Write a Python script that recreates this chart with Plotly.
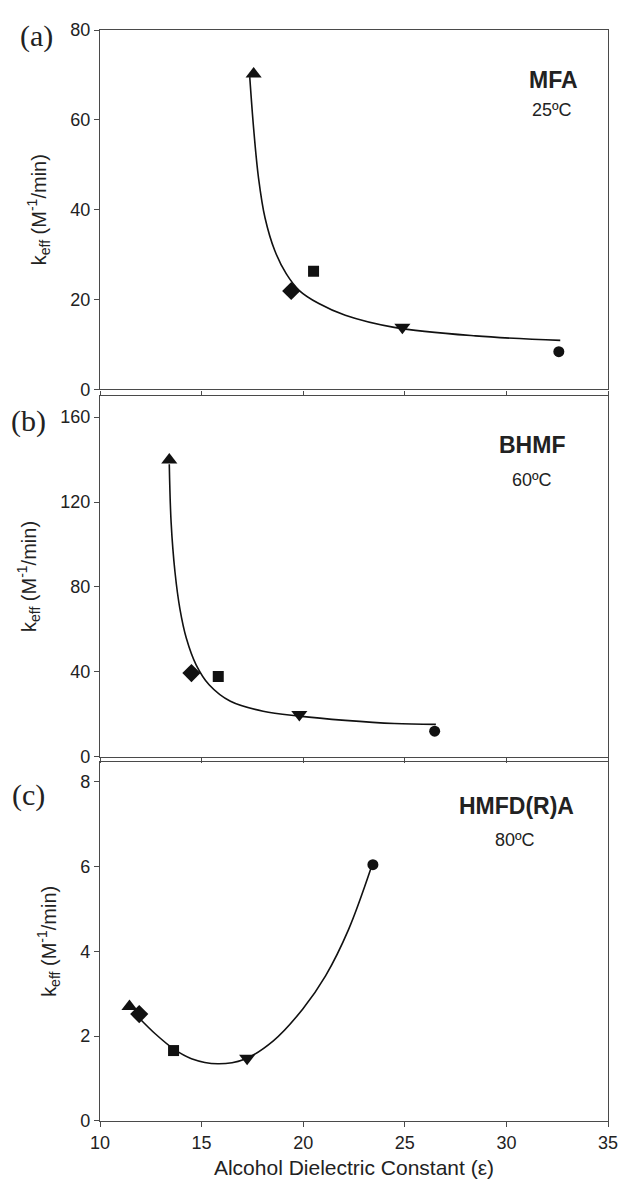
import plotly.graph_objects as go

# ---- data ----
symbols = ["triangle-up", "diamond", "square", "triangle-down", "circle"]

eps_a = [17.56, 19.41, 20.51, 24.88, 32.58]
k_a = [70.2, 21.9, 26.3, 13.8, 8.4]
fit_x_a = [17.37, 17.56, 17.80, 18.12, 18.60, 19.17, 19.81, 20.77, 22.07, 24.48, 28.48, 32.65]
fit_y_a = [69.5, 58.1, 47.1, 38.2, 30.9, 25.7, 22.0, 19.1, 16.5, 13.8, 11.9, 10.9]

eps_b = [13.41, 14.50, 15.82, 19.81, 26.47]
k_b = [139.8, 39.4, 37.8, 19.9, 12.0]
fit_x_b = [13.41, 13.50, 13.69, 13.93, 14.25, 14.73, 15.37, 16.42, 18.03, 19.81, 22.07, 24.48, 26.53]
fit_y_b = [137.8, 110.4, 87.0, 69.8, 55.8, 43.3, 33.9, 26.1, 21.4, 19.1, 17.1, 15.6, 15.2]

eps_c = [11.45, 11.93, 13.62, 17.24, 23.43]
k_c = [2.70, 2.52, 1.66, 1.48, 6.04]
fit_x_c = [11.90, 12.73, 13.62, 14.50, 15.79, 17.08, 18.53, 19.98, 21.10, 22.23, 23.33]
fit_y_c = [2.44, 2.05, 1.70, 1.47, 1.35, 1.45, 1.89, 2.64, 3.42, 4.51, 5.95]

x_ticks = [10, 15, 20, 25, 30, 35]
y_ticks_a = [0, 20, 40, 60, 80]
y_ticks_b = [0, 40, 80, 120, 160]
y_ticks_c = [0, 2, 4, 6, 8]

panel_labels = ["(a)", "(b)", "(c)"]
compounds = ["MFA", "BHMF", "HMFD(R)A"]
temps = ["25ºC", "60ºC", "80ºC"]

# ---- figure ----
OFF = 8                      # default page (body) margin around the figure
W, H = 630 - OFF, 1187 - OFF
ML, MR, MT, MB = 100 - OFF, 12, 24 - OFF, 64
PH = H - MT - MB
INK = "#111111"
FRAME = "#4a4a4a"
TXT = "#222222"
FONT = "Liberation Sans, Arial, sans-serif"

def dom(top_px, bot_px):
    # page pixel rows -> domain fractions
    return [(H - MB - (bot_px - OFF)) / PH, (H - MB - (top_px - OFF)) / PH]

def px(xp): return (xp - OFF - ML) / (W - ML - MR)
def py(yp): return (H - MB - (yp - OFF)) / PH

fig = go.Figure()

panels = [
    (eps_a, k_a, fit_x_a, fit_y_a, "x", "y"),
    (eps_b, k_b, fit_x_b, fit_y_b, "x2", "y2"),
    (eps_c, k_c, fit_x_c, fit_y_c, "x3", "y3"),
]
for ex, ky, fx, fy, xa, ya in panels:
    fig.add_trace(go.Scatter(x=fx, y=fy, mode="lines",
                             line=dict(color=INK, width=1.6, shape="spline", smoothing=1.0),
                             xaxis=xa, yaxis=ya, showlegend=False, hoverinfo="skip"))
    fig.add_trace(go.Scatter(x=ex, y=ky, mode="markers",
                             marker=dict(symbol=symbols, color=INK, opacity=1,
                                         size=[14, 14, 11, 14, 11], line=dict(width=0)),
                             xaxis=xa, yaxis=ya, showlegend=False))

xcommon = dict(range=[10, 35], tickvals=x_ticks, ticks="outside", ticklen=5, tickwidth=1.2, tickcolor=FRAME,
               showline=True, linecolor=FRAME, linewidth=1.3, mirror=True, showgrid=False, zeroline=False,
               tickfont=dict(family=FONT, size=18, color=TXT))
ycommon = dict(ticks="outside", ticklen=5, tickwidth=1.2, tickcolor=FRAME,
               showline=True, linecolor=FRAME, linewidth=1.3, mirror=True, showgrid=False, zeroline=False,
               tickfont=dict(family=FONT, size=18, color=TXT),
               title=dict(text="k<sub>eff</sub> (M<sup>-1</sup>/min)",
                          font=dict(family=FONT, size=20, color=TXT), standoff=18))

fig.update_layout(
    width=W, height=H, margin=dict(l=ML, r=MR, t=MT, b=MB),
    paper_bgcolor="white", plot_bgcolor="white",
    xaxis=dict(**xcommon, anchor="y", showticklabels=False),
    xaxis2=dict(**xcommon, anchor="y2", showticklabels=False),
    xaxis3=dict(**xcommon, anchor="y3",
                title=dict(text="Alcohol Dielectric Constant (ε)",
                           font=dict(family=FONT, size=21, color=TXT), standoff=8)),
    yaxis=dict(**ycommon, domain=dom(24, 386), range=[0, 80], tickvals=y_ticks_a, anchor="x"),
    yaxis2=dict(**ycommon, domain=dom(393, 756), range=[0, 169.8], tickvals=y_ticks_b, anchor="x2"),
    yaxis3=dict(**ycommon, domain=dom(761, 1123), range=[0, 8.47], tickvals=y_ticks_c, anchor="x3"),
)

label_pos = [(35, 30), (27, 418), (27, 795)]
for t, (xp, yp) in zip(panel_labels, label_pos):
    fig.add_annotation(text=t, x=px(xp), y=py(yp), xref="paper", yref="paper", showarrow=False,
                       font=dict(family="Liberation Serif, Times New Roman, serif", size=30, color=TXT),
                       xanchor="center", yanchor="middle")

name_pos = [(562, 74), (541, 442), (525, 806)]
temp_pos = [(561, 105), (541, 477), (523, 840)]
for t, (xp, yp) in zip(compounds, name_pos):
    fig.add_annotation(text="<b>%s</b>" % t, x=px(xp), y=py(yp), xref="paper", yref="paper", showarrow=False,
                       font=dict(family=FONT, size=23, color=TXT), xanchor="center", yanchor="middle")
for t, (xp, yp) in zip(temps, temp_pos):
    fig.add_annotation(text=t, x=px(xp), y=py(yp), xref="paper", yref="paper", showarrow=False,
                       font=dict(family=FONT, size=18, color=TXT), xanchor="center", yanchor="middle")

fig.write_html("out.html")
